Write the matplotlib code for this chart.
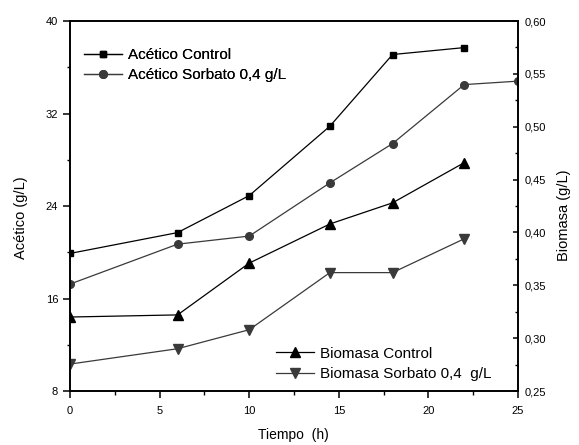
import matplotlib
matplotlib.use("Agg")
import matplotlib.pyplot as plt
from matplotlib.ticker import MultipleLocator, FuncFormatter

plt.rcParams['font.family'] = ['Liberation Sans', 'DejaVu Sans']

tiempo = [0, 6, 10, 14.5, 18, 22]
tiempo_sorb = [0, 6, 10, 14.5, 18, 22, 25]
acetico_control = [19.9, 21.7, 24.9, 30.9, 37.1, 37.7]
acetico_sorbato = [17.25, 20.7, 21.4, 26.0, 29.4, 34.5, 34.8]
biomasa_control = [0.320, 0.322, 0.371, 0.408, 0.428, 0.466]
biomasa_sorbato = [0.2755, 0.290, 0.308, 0.362, 0.362, 0.394]

fig = plt.figure(figsize=(5.79, 4.45), dpi=100)
ax = fig.add_axes([0.121, 0.1213, 0.7736, 0.8315])
ax2 = ax.twinx()

lw = 0.9
l1, = ax.plot(tiempo, acetico_control, '-', color='black', marker='s', ms=5, lw=lw,
              label='Acético Control')
l2, = ax.plot(tiempo_sorb, acetico_sorbato, '-', color='#3a3a3a', marker='o', ms=5.5, lw=lw,
              label='Acético Sorbato 0,4 g/L')
l3, = ax2.plot(tiempo, biomasa_control, '-', color='black', marker='^', ms=6.5, lw=lw,
               label='Biomasa Control')
l4, = ax2.plot(tiempo, biomasa_sorbato, '-', color='#3a3a3a', marker='v', ms=6.5, lw=lw,
               label='Biomasa Sorbato 0,4  g/L')

ax.set_xlim(0, 25)
ax.set_ylim(8, 40)
ax2.set_ylim(0.25, 0.60)

ax.xaxis.set_major_locator(MultipleLocator(5))
ax.xaxis.set_minor_locator(MultipleLocator(2.5))
ax.yaxis.set_major_locator(MultipleLocator(8))
ax.yaxis.set_minor_locator(MultipleLocator(4))
ax2.yaxis.set_major_locator(MultipleLocator(0.05))
ax2.yaxis.set_minor_locator(MultipleLocator(0.025))
ax2.yaxis.set_major_formatter(FuncFormatter(lambda v, p: f"{v:.2f}".replace('.', ',')))

for a in (ax, ax2):
    for s in a.spines.values():
        s.set_linewidth(1.2)

ax.tick_params(axis='y', which='major', direction='out', length=5, width=1.1, labelsize=8, pad=3.6)
ax.tick_params(axis='y', which='minor', direction='out', length=2.5, width=1.0)
ax.tick_params(axis='x', which='major', direction='out', length=5, width=1.1, labelsize=8, pad=5.5)
ax.tick_params(axis='x', which='minor', direction='out', length=3, width=1.0)
ax2.tick_params(axis='y', which='major', direction='in', length=3.6, width=1.1, labelsize=8, pad=5)
ax2.tick_params(axis='y', which='minor', direction='in', length=2.5, width=1.0)

ax.set_xlabel('Tiempo  (h)', fontsize=10)
ax.set_ylabel('Acético (g/L)', fontsize=10.5)
ax2.set_ylabel('Biomasa (g/L)', fontsize=10.5)
ax.xaxis.set_label_coords(0.499, -0.1)
ax.yaxis.set_label_coords(-0.094, 0.469)
ax2.yaxis.set_label_coords(1.087, 0.475)

leg1 = ax.legend(handles=[l1, l2], loc='upper left', bbox_to_anchor=(0.031, 0.927),
                 frameon=False, fontsize=11, handlelength=2.5, handletextpad=0.4,
                 labelspacing=0.42, borderaxespad=0, borderpad=0)
ax.add_artist(leg1)
leg2 = ax2.legend(handles=[l3, l4], loc='lower right', bbox_to_anchor=(0.942, 0.027),
                  frameon=False, fontsize=11, handlelength=2.5, handletextpad=0.4,
                  labelspacing=0.42, borderaxespad=0, borderpad=0)

fig.savefig('out.png', dpi=100)
